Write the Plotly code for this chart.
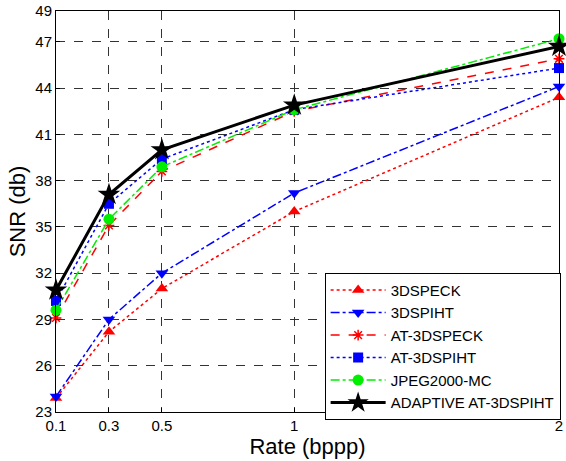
import plotly.graph_objects as go

rates = [0.1, 0.3, 0.5, 1, 2]
x_ticks = [0.1, 0.3, 0.5, 1, 2]
x_tick_labels = ["0.1", "0.3", "0.5", "1", "2"]
y_ticks = [23, 26, 29, 32, 35, 38, 41, 44, 47, 49]

speck3d = [23.9, 28.2, 31.0, 36.0, 43.4]
spiht3d = [24.0, 29.0, 32.0, 37.2, 44.1]
at_speck = [29.1, 35.1, 38.6, 42.5, 45.9]
at_spiht = [30.2, 36.5, 39.4, 42.6, 45.3]
jpeg2000 = [29.6, 35.5, 38.9, 42.6, 47.2]
adaptive = [30.9, 37.1, 40.0, 42.9, 46.7]

series = [
    ("3DSPECK", speck3d, "red", "dot", "triangle-up", 11, 1.5),
    ("3DSPIHT", spiht3d, "blue", "dashdot", "triangle-down", 11, 1.5),
    ("AT-3DSPECK", at_speck, "red", "dash", "asterisk", 9, 1.5),
    ("AT-3DSPIHT", at_spiht, "blue", "dot", "square", 10, 1.5),
    ("JPEG2000-MC", jpeg2000, "#00ee00", "dashdot", "circle", 11, 1.5),
    ("ADAPTIVE AT-3DSPIHT", adaptive, "black", "solid", "star", 17, 3),
]

fig = go.Figure()
for name, ys, color, dash, sym, size, lw in series:
    fig.add_trace(go.Scatter(
        x=rates, y=ys, name=name, mode="lines+markers",
        line=dict(color=color, dash=dash, width=lw),
        marker=dict(symbol=sym, size=size, color=color,
                    line=dict(color=color, width=1.5 if sym == "asterisk" else 0)),
        cliponaxis=False,
    ))

FONT = "Liberation Sans, Arial"
axis_common = dict(
    showline=True, linecolor="black", linewidth=1, mirror=True,
    showgrid=True, gridcolor="#333", griddash="dash", gridwidth=1,
    ticks="inside", ticklen=4, tickcolor="black",
    zeroline=False, automargin=False, ticklabeloverflow="allow",
    tickfont=dict(family=FONT, size=15, color="black"),
)

fig.update_xaxes(range=[0.1, 2], tickvals=x_ticks, ticktext=x_tick_labels,
                 title=dict(text="Rate (bppp)", font=dict(family=FONT, size=22, color="black"), standoff=2),
                 **axis_common)
fig.update_yaxes(range=[23, 49], tickvals=y_ticks,
                 title=dict(text="SNR (db)", font=dict(family=FONT, size=22, color="black"), standoff=3),
                 **axis_common)

fig.update_layout(
    width=566, height=461,
    margin=dict(l=56, r=6, t=11, b=49),
    paper_bgcolor="white", plot_bgcolor="white",
    legend=dict(x=0.533, y=0.347, xanchor="left", yanchor="top",
                bgcolor="white", bordercolor="black", borderwidth=1,
                font=dict(family=FONT, size=15, color="black"),
                tracegroupgap=0, itemwidth=55),
    showlegend=True,
)

fig.write_html("out.html", config={"displayModeBar": False},
               post_script="document.body.style.margin='0px';")
